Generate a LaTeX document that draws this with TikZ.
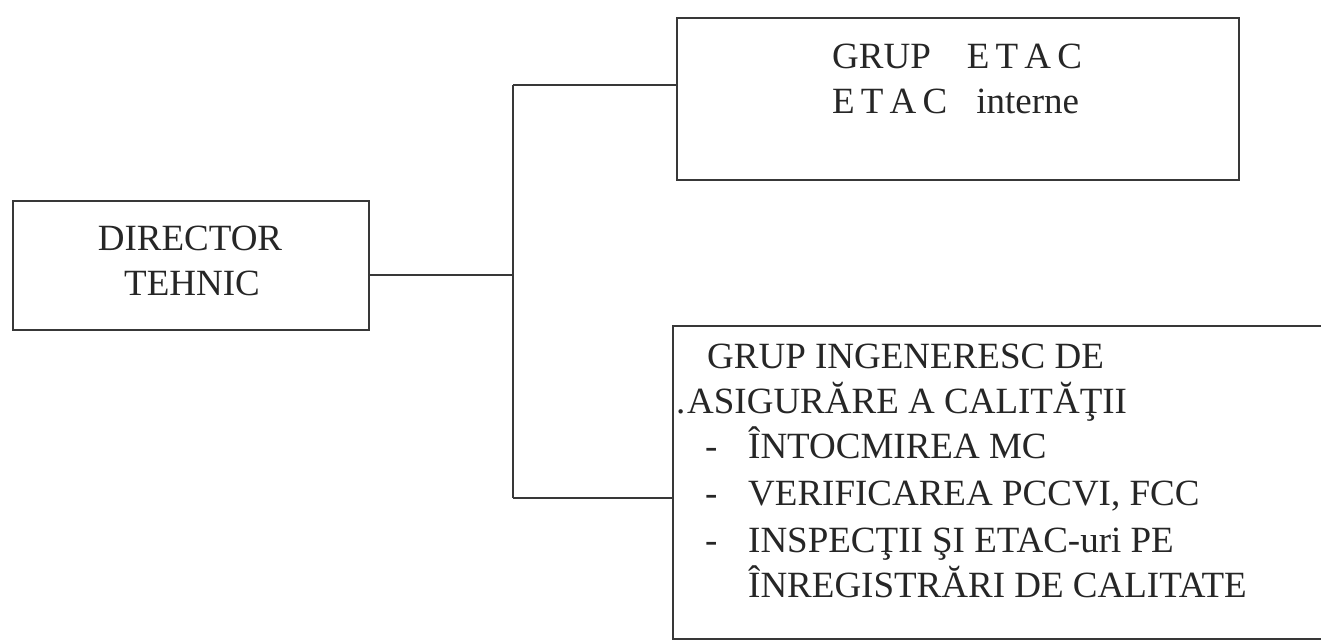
\documentclass[tikz,border=0pt]{standalone}
\usepackage{fontspec}
\setmainfont{Liberation Serif}
\begin{document}
\begin{tikzpicture}[x=1pt,y=-1pt,
  boxstyle/.style={draw=black!78,line width=1.7pt,inner sep=0pt,anchor=north west},
  wire/.style={draw=black!78,line width=1.7pt},
  txt/.style={inner sep=0pt,anchor=base west,text=black!85,font=\fontsize{37}{45}\selectfont},
  ctxt/.style={inner sep=0pt,anchor=base,text=black!85,font=\fontsize{37}{45}\selectfont}]
\useasboundingbox[fill=white] (0,0) rectangle (1321,641);
% boxes
\node[boxstyle,minimum width=356pt,minimum height=129pt] (dir) at (12,200) {};
\node[boxstyle,minimum width=562pt,minimum height=162pt] (top) at (676,17) {};
\node[boxstyle,minimum width=680pt,minimum height=313pt] (bot) at (672,325) {};
% texts
\node[ctxt] (d1) at (190,250) {DIRECTOR};
\node[ctxt] (d2) at (192,295) {TEHNIC};
\node[txt] (t1) at (832,68) {GRUP\hspace{36pt}E\,T\,A\,C};
\node[txt] (t2) at (832,113) {E\,T\,A\,C\hspace{29pt}interne};
\node[txt] (b1) at (707,368) {GRUP INGENERESC DE};
\node[txt] (b0) at (676,413) {.};
\node[txt] (b2) at (687,413) {ASIGURĂRE A CALITĂŢII};
\node[txt] (h1) at (705,458) {-};
\node[txt] (b3) at (748,458) {ÎNTOCMIREA MC};
\node[txt] (h2) at (705,505) {-};
\node[txt] (b4) at (748,505) {VERIFICAREA PCCVI, FCC};
\node[txt] (h3) at (705,552) {-};
\node[txt] (b5) at (748,552) {INSPECŢII ŞI ETAC-uri PE};
\node[txt] (b6) at (748,597) {ÎNREGISTRĂRI DE CALITATE};
% connectors
\coordinate (jtop) at (513,85);
\coordinate (jmid) at (513,275);
\coordinate (jbot) at (513,498);
\draw[wire] (dir.east |- jmid) -- (jmid);
\draw[wire] (jtop) -- (jbot);
\draw[wire] (jtop) -- (top.west |- jtop);
\draw[wire] (jbot) -- (bot.west |- jbot);
\end{tikzpicture}
\end{document}
